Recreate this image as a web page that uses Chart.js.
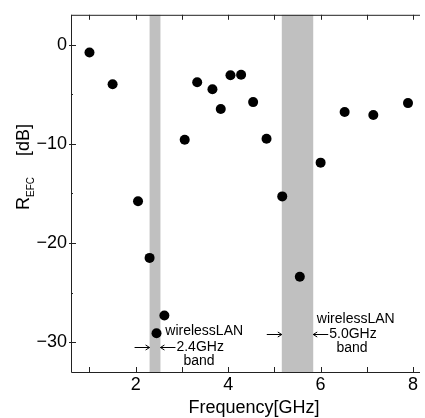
<!DOCTYPE html>
<html>
<head>
<meta charset="UTF-8">
<title>R_EFC vs Frequency</title>
<style>
  html, body { margin: 0; padding: 0; background: #fff; }
  #chart { display: block; }
</style>
</head>
<body>
<canvas id="chart" width="425" height="418"></canvas>
<script src="https://cdn.jsdelivr.net/npm/chart.js@4.4.1/dist/chart.umd.min.js"></script>
<script>
// measured points
const freqGHz = [1.0, 1.5, 2.05, 2.3, 2.45, 2.62, 3.06, 3.33, 3.66, 3.84, 4.05, 4.28, 4.54, 4.83, 5.17, 5.55, 6.0, 6.52, 7.14, 7.89];
const refcDB = [-0.8, -4.0, -15.8, -21.5, -29.1, -27.3, -9.6, -3.8, -4.5, -6.5, -3.1, -3.05, -5.8, -9.5, -15.3, -23.4, -11.9, -6.8, -7.1, -5.9];

// wireless LAN bands (GHz)
const bandStart = [2.3, 5.16];
const bandEnd = [2.535, 5.84];

const xLabelValues = [2, 4, 6, 8];
const yLabelValues = [0, -10, -20, -30];

// band notes, anchored in data coordinates (dx in px)
const notes = [
  { text: 'wirelessLAN', x: 2.64, y: -28.9, align: 'left', dx: 0 },
  { text: '2.4GHz', x: 2.535, y: -30.45, align: 'left', dx: 16 },
  { text: 'band', x: 3.37, y: -31.9, align: 'center', dx: 0 },
  { text: 'wirelessLAN', x: 6.76, y: -27.7, align: 'center', dx: 0 },
  { text: '5.0GHz', x: 5.84, y: -29.2, align: 'left', dx: 16 },
  { text: 'band', x: 6.68, y: -30.6, align: 'center', dx: 0 }
];
// arrows pointing at the band edges
const arrows = [
  { x: 2.3, y: -30.45, dir: 1 },
  { x: 2.535, y: -30.45, dir: -1 },
  { x: 5.16, y: -29.2, dir: 1 },
  { x: 5.84, y: -29.2, dir: -1 }
];

const FONT = 'Arial, "Liberation Sans", sans-serif';
Chart.defaults.font.family = FONT;
Chart.defaults.color = '#000';

const points = freqGHz.map((f, i) => ({ x: f, y: refcDB[i] }));

const decor = {
  id: 'decor',
  beforeDatasetsDraw(chart) {
    const { ctx, chartArea: a, scales: { x } } = chart;
    ctx.save();
    ctx.fillStyle = '#c0c0c0';
    bandStart.forEach((s, i) => {
      const x0 = x.getPixelForValue(s);
      const x1 = x.getPixelForValue(bandEnd[i]);
      ctx.fillRect(x0, a.top, x1 - x0, a.bottom - a.top);
    });
    ctx.restore();
  },
  afterDraw(chart) {
    const { ctx, chartArea: a, scales: { x, y } } = chart;
    ctx.save();
    ctx.strokeStyle = '#222';
    ctx.lineWidth = 1;
    ctx.beginPath();
    // frame: left, top, bottom
    ctx.moveTo(a.left + 0.5, a.top);
    ctx.lineTo(a.left + 0.5, a.bottom + 0.5);
    ctx.lineTo(a.right, a.bottom + 0.5);
    ctx.moveTo(a.left, a.top + 0.5);
    ctx.lineTo(a.right, a.top + 0.5);
    // x ticks, inward at bottom and top
    x.ticks.forEach(t => {
      const px = Math.round(x.getPixelForValue(t.value)) + 0.5;
      ctx.moveTo(px, a.bottom);
      ctx.lineTo(px, a.bottom - 5);
      ctx.moveTo(px, a.top);
      ctx.lineTo(px, a.top + 5);
    });
    // y ticks
    y.ticks.forEach(t => {
      const py = Math.round(y.getPixelForValue(t.value)) + 0.5;
      const major = t.value % 10 === 0;
      ctx.moveTo(a.left - (major ? 2 : 0), py);
      ctx.lineTo(a.left + (major ? 5 : 2), py);
    });
    ctx.stroke();

    // arrows
    ctx.strokeStyle = '#000';
    ctx.beginPath();
    arrows.forEach(ar => {
      const tip = x.getPixelForValue(ar.x);
      const py = Math.round(y.getPixelForValue(ar.y)) + 0.5;
      const tail = tip - ar.dir * 15;
      ctx.moveTo(tail, py);
      ctx.lineTo(tip, py);
      ctx.moveTo(tip - ar.dir * 4, py - 2.5);
      ctx.lineTo(tip, py);
      ctx.lineTo(tip - ar.dir * 4, py + 2.5);
    });
    ctx.stroke();

    // notes
    ctx.fillStyle = '#000';
    ctx.font = '14px ' + FONT;
    ctx.textBaseline = 'middle';
    notes.forEach(n => {
      ctx.textAlign = n.align;
      ctx.fillText(n.text, x.getPixelForValue(n.x) + n.dx, y.getPixelForValue(n.y));
    });

    // x title
    ctx.textAlign = 'center';
    ctx.textBaseline = 'alphabetic';
    ctx.font = '18px ' + FONT;
    ctx.fillText('Frequency[GHz]', 254, 413);

    // y title with subscript
    ctx.translate(29, 210);
    ctx.rotate(-Math.PI / 2);
    ctx.textAlign = 'left';
    ctx.font = '18px ' + FONT;
    ctx.fillText('R', 0, 0);
    const rw = ctx.measureText('R').width;
    ctx.font = '10px ' + FONT;
    ctx.fillText('EFC', rw, 4.5);
    ctx.font = '18px ' + FONT;
    ctx.fillText('[dB]', 54, 0);
    ctx.restore();
  }
};

new Chart(document.getElementById('chart'), {
  type: 'scatter',
  data: {
    datasets: [{
      data: points,
      pointRadius: 5,
      pointBackgroundColor: '#000',
      pointBorderWidth: 0
    }]
  },
  options: {
    responsive: false,
    animation: false,
    layout: { padding: { top: 11, left: 0, right: 0, bottom: 0 } },
    plugins: { legend: { display: false }, tooltip: { enabled: false } },
    scales: {
      x: {
        type: 'linear',
        min: 0.6,
        max: 8.15,
        grid: { display: false, drawTicks: false },
        border: { display: false },
        ticks: {
          stepSize: 1,
          includeBounds: false,
          autoSkip: false,
          maxRotation: 0,
          padding: 2,
          font: { size: 18 },
          callback: v => xLabelValues.includes(v) ? String(v) : ''
        },
        afterFit: s => { s.height = 46; }
      },
      y: {
        min: -33,
        max: 3,
        grid: { display: false, drawTicks: false },
        border: { display: false },
        ticks: {
          stepSize: 5,
          includeBounds: false,
          autoSkip: false,
          padding: 4,
          font: { size: 18 },
          callback: v => yLabelValues.includes(v) ? (v < 0 ? '\u2212' + Math.abs(v) : String(v)) : ''
        },
        afterFit: s => { s.width = 71; }
      }
    }
  },
  plugins: [decor]
});
</script>
</body>
</html>
